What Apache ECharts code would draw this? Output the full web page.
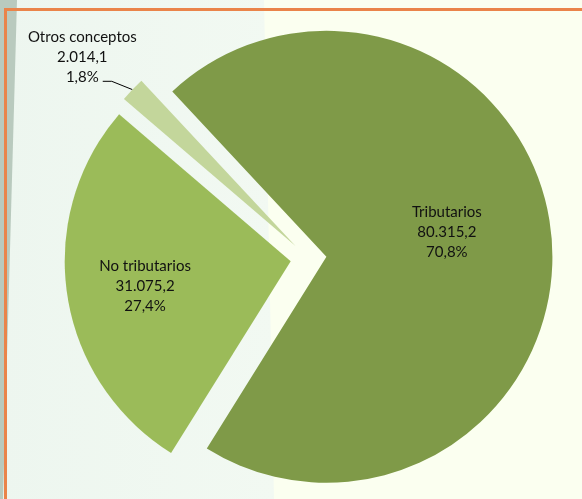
<!DOCTYPE html>
<html><head><meta charset="utf-8">
<script src="https://cdn.jsdelivr.net/npm/echarts@6/dist/echarts.min.js"></script>
<style>html,body{margin:0;padding:0;background:#FBFFF0}#c{width:582px;height:499px}</style>
</head><body><div id="c"></div>
<script>
const categories = ['Tributarios', 'No tributarios', 'Otros conceptos'];
const values = [80315.2, 31075.2, 2014.1];
const colors = ['#7F9A48', '#9BBB59', '#C3D69B'];

function fmtNum(v) {
  const parts = v.toFixed(1).split('.');
  return parts[0].replace(/\B(?=(\d{3})+(?!\d))/g, '.') + ',' + parts[1];
}
const FONT = 'Lato';
const labelStyle = {
  rich: { t: { fontFamily: FONT, fontSize: 15, lineHeight: 20, color: '#111', align: 'center' } },
  formatter: p => '{t|' + p.name + '}\n{t|' + fmtNum(p.value) + '}\n{t|' + p.percent.toFixed(1).replace('.', ',') + '%}'
};
const labelShift = [[5, -13], [-31, 7], [39, -24]];

const chart = echarts.init(document.getElementById('c'), null, { renderer: 'canvas' });
chart.setOption({
  backgroundColor: '#FBFFF0',
  animation: false,
  graphic: [
    { type: 'polygon', z: -10, silent: true, shape: { points: [[0, 0], [264, 0], [274, 499], [0, 499]] },
      style: { fill: new echarts.graphic.LinearGradient(0, 0, 1, 0, [{ offset: 0, color: '#EDF6EF' }, { offset: 1, color: '#F2F9F2' }]) } },
    { type: 'polygon', z: -9, silent: true, shape: { points: [[0, 0], [17, 0], [3, 499], [0, 499]] }, style: { fill: '#B9CABE' } },
    { type: 'rect', z: -8, silent: true, shape: { x: 4, y: 8, width: 580, height: 3 }, style: { fill: '#EA844A' } },
    { type: 'rect', z: -8, silent: true, shape: { x: 4, y: 8, width: 3, height: 495 }, style: { fill: '#EA844A' } }
  ],
  series: [{
    type: 'pie',
    center: [308.5, 258.5],
    radius: 226,
    startAngle: 133,
    clockwise: true,
    selectedMode: 'multiple',
    selectedOffset: 18,
    avoidLabelOverlap: false,
    emphasis: { scale: false },
    labelLine: { show: true, length: 12, length2: 21, lineStyle: { color: '#000', width: 1 } },
    labelLayout: function (params) {
      const s = labelShift[params.dataIndex];
      const out = { dx: s[0], dy: s[1] };
      if (params.dataIndex === 2 && params.labelLinePoints) {
        const p = params.labelLinePoints;
        out.labelLinePoints = [p[0], [p[2][0] + 9, p[2][1]], p[2]];
      }
      return out;
    },
    data: categories.map((n, i) => ({
      name: n, value: values[i], selected: true,
      itemStyle: { color: colors[i] },
      label: Object.assign({ show: true, position: i === 2 ? 'outside' : 'inside' }, labelStyle),
      labelLine: { show: i === 2 }
    }))
  }]
});
</script></body></html>
